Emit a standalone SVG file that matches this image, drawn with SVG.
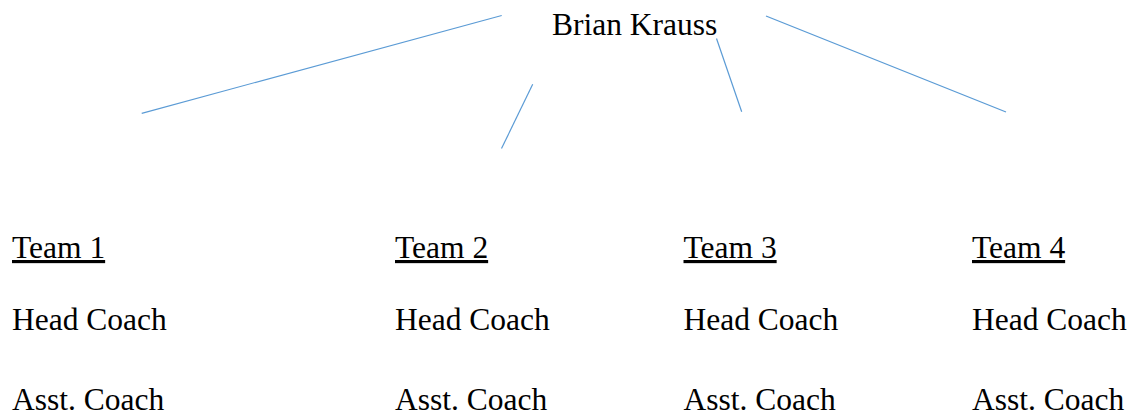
<svg xmlns="http://www.w3.org/2000/svg" width="1133" height="417" viewBox="0 0 1133 417">
<style>
text{font-family:"Liberation Serif","Times New Roman",serif;font-size:31.5px;fill:#000}
.hd{text-decoration:underline}
.c{stroke:#5B9BD5;stroke-width:1.2;fill:none}
</style>
<rect width="1133" height="417" fill="#fff"/>
<g id="connectors">
<line class="c" x1="501.7" y1="15.5" x2="141.7" y2="113.3"/>
<line class="c" x1="532.7" y1="84.3" x2="501.5" y2="148.5"/>
<line class="c" x1="716.5" y1="38.5" x2="741.7" y2="111.7"/>
<line class="c" x1="766" y1="16" x2="1006" y2="112"/>
</g>
<g id="root"><text x="552" y="35">Brian Krauss</text></g>
<g id="team1">
<text class="hd" x="12" y="258">Team 1</text>
<text x="12" y="330">Head Coach</text>
<text x="12" y="410">Asst. Coach</text>
</g>
<g id="team2">
<text class="hd" x="395" y="258">Team 2</text>
<text x="395" y="330">Head Coach</text>
<text x="395" y="410">Asst. Coach</text>
</g>
<g id="team3">
<text class="hd" x="683.5" y="258">Team 3</text>
<text x="683.5" y="330">Head Coach</text>
<text x="683.5" y="410">Asst. Coach</text>
</g>
<g id="team4">
<text class="hd" x="972" y="258">Team 4</text>
<text x="972" y="330">Head Coach</text>
<text x="972" y="410">Asst. Coach</text>
</g>
</svg>
